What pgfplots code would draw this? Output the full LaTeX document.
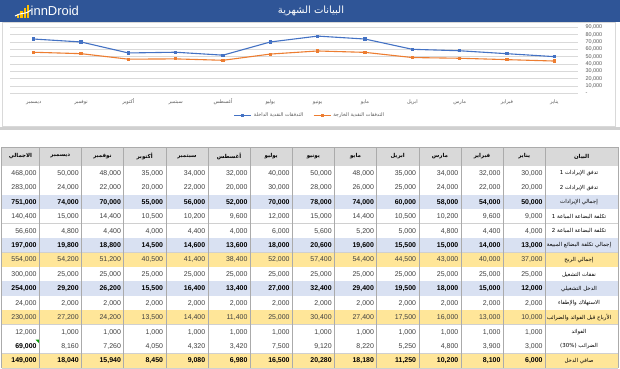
\documentclass[border=0pt]{standalone}
\usepackage{pgfplots}
\pgfplotsset{compat=1.18}
\usepackage{fontspec}
\setmainfont{Liberation Sans}
\newfontfamily\arabicfont[Script=Arabic]{DejaVu Sans}
\TeXXeTstate=1
\newcommand{\ar}[1]{{\arabicfont\beginR #1\endR}}
\definecolor{hdrblue}{HTML}{2F5597}
\definecolor{lblue}{HTML}{4472C4}
\definecolor{lorange}{HTML}{ED7D31}
\definecolor{rowblue}{HTML}{D9E1F2}
\definecolor{rowyellow}{HTML}{FFE699}
\definecolor{hdrgray}{HTML}{D9D9D9}
\definecolor{gridgray}{HTML}{D9D9D9}
\definecolor{txtgray}{HTML}{595959}
\definecolor{numgray}{HTML}{404040}
\definecolor{vgray}{HTML}{ABABAB}
\definecolor{hgray}{HTML}{D0D0D0}
\definecolor{logoyellow}{HTML}{FFC000}
\tikzset{
  num/.style={anchor=east, inner sep=0pt, font=\fontsize{7}{8}\selectfont, text=numgray},
  numb/.style={anchor=east, inner sep=0pt, font=\fontsize{7}{8}\selectfont\bfseries, text=black},
  lbl/.style={inner sep=0pt, font=\arabicfont\fontsize{5.5}{6}\selectfont, text=black},
}
\newcommand{\trow}[6]{%
  \pgfmathsetmacro{\yt}{166+(#1-1)*14.43}%
  \pgfmathsetmacro{\yb}{\yt+14.43}%
  \pgfmathsetmacro{\yc}{\yt+7.4}%
  \fill[#2] (1.7,\yt) rectangle (618,\yb);
  \draw[hgray, line width=0.6bp] (1.7,\yb) -- (618,\yb);
  \foreach \v [count=\i] in {#6} {
    \ifnum\i<13
      \node[#3] at ({545.3-(\i-1)*42.17-2.5},\yc) {\v};
    \else
      \node[#4] at (36.8,\yc) {\v};
    \fi
  }
  \node[lbl] at (579,\yc) {#5};
}
\begin{document}
\begin{tikzpicture}
\useasboundingbox (0,0) rectangle (620bp,-369bp);
\fill[white] (0,0) rectangle (620bp,-369bp);
\begin{scope}[x=1bp,y=-1bp]
  % header bar
  \fill[hdrblue] (0,0) rectangle (620,21.5);
  \node[text=white, inner sep=0pt, font=\arabicfont\fontsize{10}{12}\selectfont] at (311,11) {\beginR البيانات الشهرية\endR};
  % logo
  \fill[logoyellow] (17,14) rectangle (19.3,17.5);
  \fill[logoyellow] (20.3,11) rectangle (22.6,17.5);
  \fill[logoyellow] (23.6,8) rectangle (25.9,17.5);
  \fill[logoyellow] (26.9,5) rectangle (29.2,17.5);
  \draw[white, line width=1bp] (15,16) .. controls (21,12) and (26,15) .. (31,10);
  \node[anchor=west, inner sep=0pt, text=white, font=\fontsize{13}{14}\selectfont] at (30.5,11) {innDroid};
  % chart box
  \draw[gridgray, line width=0.8bp] (2,22.5) rectangle (615,126.5);
  \fill[hgray] (0,127) rectangle (620,130);
  % table header
  \fill[hdrgray] (1.7,147) rectangle (618,166);
  \draw[vgray, line width=0.6bp] (1.7,147) -- (618,147);
  \draw[vgray, line width=0.6bp] (1.7,166) -- (618,166);
  \foreach \m [count=\i] in {يناير,فبراير,مارس,ابريل,مايو,يونيو,يوليو,أغسطس,سبتمبر,أكتوبر,نوفمبر,ديسمبر} {
    \node[lbl, font=\arabicfont\fontsize{5.5}{6}\selectfont\bfseries] at ({545.3-(\i-0.5)*42.17},156.5) {\beginR\m\endR};
  }
  \node[lbl, font=\arabicfont\fontsize{5.5}{6}\selectfont\bfseries] at (20.5,156.5) {\beginR الاجمالي\endR};
  \node[lbl, font=\arabicfont\fontsize{5.5}{6}\selectfont\bfseries] at (581.6,156.5) {\beginR البيان\endR};
  % rows
  \trow{1}{white}{num}{num}{\beginR تدفق الإيرادات 1\endR}{{30,000},{32,000},{34,000},{35,000},{48,000},{50,000},{40,000},{32,000},{34,000},{35,000},{48,000},{50,000},{468,000}}
  \trow{2}{white}{num}{num}{\beginR تدفق الإيرادات 2\endR}{{20,000},{22,000},{24,000},{25,000},{26,000},{28,000},{30,000},{20,000},{22,000},{20,000},{22,000},{24,000},{283,000}}
  \trow{3}{rowblue}{numb}{numb}{\beginR إجمالي الإيرادات\endR}{{50,000},{54,000},{58,000},{60,000},{74,000},{78,000},{70,000},{52,000},{56,000},{55,000},{70,000},{74,000},{751,000}}
  \trow{4}{white}{num}{num}{\beginR تكلفة البضاعة المباعة 1\endR}{{9,000},{9,600},{10,200},{10,500},{14,400},{15,000},{12,000},{9,600},{10,200},{10,500},{14,400},{15,000},{140,400}}
  \trow{5}{white}{num}{num}{\beginR تكلفة البضاعة المباعة 2\endR}{{4,000},{4,400},{4,800},{5,000},{5,200},{5,600},{6,000},{4,000},{4,400},{4,000},{4,400},{4,800},{56,600}}
  \trow{6}{rowblue}{numb}{numb}{\beginR إجمالي تكلفة البضائع المبيعة\endR}{{13,000},{14,000},{15,000},{15,500},{19,600},{20,600},{18,000},{13,600},{14,600},{14,500},{18,800},{19,800},{197,000}}
  \trow{7}{rowyellow}{num}{num}{\beginR إجمالي الربح\endR}{{37,000},{40,000},{43,000},{44,500},{54,400},{57,400},{52,000},{38,400},{41,400},{40,500},{51,200},{54,200},{554,000}}
  \trow{8}{white}{num}{num}{\beginR نفقات التشغيل\endR}{{25,000},{25,000},{25,000},{25,000},{25,000},{25,000},{25,000},{25,000},{25,000},{25,000},{25,000},{25,000},{300,000}}
  \trow{9}{rowblue}{numb}{numb}{\beginR الدخل التشغيلي\endR}{{12,000},{15,000},{18,000},{19,500},{29,400},{32,400},{27,000},{13,400},{16,400},{15,500},{26,200},{29,200},{254,000}}
  \trow{10}{white}{num}{num}{\beginR الاستهلاك والإطفاء\endR}{{2,000},{2,000},{2,000},{2,000},{2,000},{2,000},{2,000},{2,000},{2,000},{2,000},{2,000},{2,000},{24,000}}
  \trow{11}{rowyellow}{num}{num}{\beginR الأرباح قبل الفوائد والضرائب\endR}{{10,000},{13,000},{16,000},{17,500},{27,400},{30,400},{25,000},{11,400},{14,400},{13,500},{24,200},{27,200},{230,000}}
  \trow{12}{white}{num}{num}{\beginR الفوائد\endR}{{1,000},{1,000},{1,000},{1,000},{1,000},{1,000},{1,000},{1,000},{1,000},{1,000},{1,000},{1,000},{12,000}}
  \trow{13}{white}{num}{numb}{\beginR الضرائب (30\%)\endR}{{3,000},{3,900},{4,800},{5,250},{8,220},{9,120},{7,500},{3,420},{4,320},{4,050},{7,260},{8,160},{69,000}}
  \trow{14}{rowyellow}{numb}{numb}{\beginR صافي الدخل\endR}{{6,000},{8,100},{10,200},{11,250},{18,180},{20,280},{16,500},{6,980},{9,080},{8,450},{15,940},{18,040},{149,000}}
  % green indicator
  \fill[green!60!black] (35.5,339.5) -- (39,339.5) -- (39,343) -- cycle;
  % vertical lines
  \foreach \k in {0,...,12} {
    \draw[vgray, line width=0.6bp] ({39.3+\k*42.17},147) -- ({39.3+\k*42.17},368);
  }
  \draw[vgray, line width=0.6bp] (1.7,147) -- (1.7,368);
  \draw[vgray, line width=0.6bp] (618,147) -- (618,368);
\end{scope}
\begin{axis}[
  at={(10bp,-93.3bp)}, anchor=south west,
  scale only axis, width=568bp, height=66bp,
  xmin=-0.5, xmax=11.5, ymin=0, ymax=90000,
  axis line style={draw=none}, major tick length=0,
  scaled y ticks=false,
  xtick={0,...,11},
  xticklabels={{\ar{ديسمبر}},{\ar{نوفمبر}},{\ar{أكتوبر}},{\ar{سبتمبر}},{\ar{أغسطس}},{\ar{يوليو}},{\ar{يونيو}},{\ar{مايو}},{\ar{ابريل}},{\ar{مارس}},{\ar{فبراير}},{\ar{يناير}}},
  ytick={0,10000,20000,30000,40000,50000,60000,70000,80000,90000},
  yticklabels={{-},{10,000},{20,000},{30,000},{40,000},{50,000},{60,000},{70,000},{80,000},{90,000}},
  yticklabel pos=right,
  ymajorgrids, grid style={gridgray, line width=0.6bp},
  yticklabel style={font=\fontsize{5.5}{6}\selectfont, text=txtgray, xshift=4bp},
  xticklabel style={font=\fontsize{5}{6}\selectfont, text=txtgray, anchor=base, yshift=-10bp},
  legend style={at={(0.528,-0.33)}, anchor=center, draw=none, fill=none,
    font=\arabicfont\fontsize{5}{6}\selectfont, text=txtgray, legend columns=2,
    /tikz/every even column/.append style={column sep=8bp}},
  clip=false,
]
\addplot[lblue, line width=1.1bp, mark=square*, mark size=1bp] coordinates {
  (11,50000)(10,54000)(9,58000)(8,60000)(7,74000)(6,78000)(5,70000)(4,52000)(3,56000)(2,55000)(1,70000)(0,74000)};
\addlegendentry{\beginR التدفقات النقدية الداخلة\endR}
\addplot[lorange, line width=1.1bp, mark=square*, mark size=1bp] coordinates {
  (11,44000)(10,45900)(9,47800)(8,48750)(7,55820)(6,57720)(5,53500)(4,45020)(3,46920)(2,46550)(1,54060)(0,55960)};
\addlegendentry{\beginR التدفقات النقدية الخارجة\endR}
\end{axis}
\end{tikzpicture}
\end{document}
